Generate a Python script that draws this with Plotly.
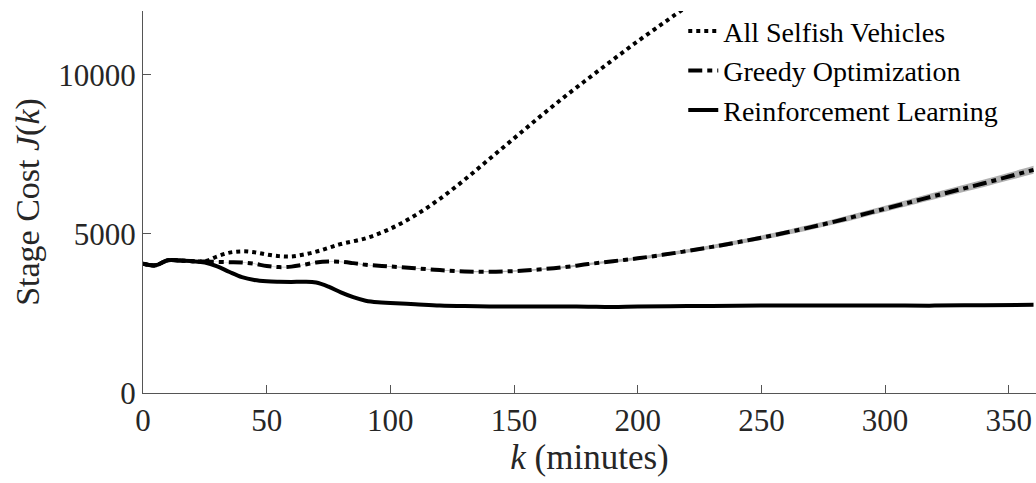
import plotly.graph_objects as go

# ---------------- data ----------------
k_selfish = [0, 5, 10, 15, 20, 25, 30, 35, 40, 45, 50, 55, 60, 65, 70, 75, 80, 90,
             100, 110, 120, 130, 140, 150, 160, 170, 180, 190, 200, 210, 220]
j_selfish = [4060, 4010, 4170, 4160, 4140, 4140, 4290, 4410, 4450, 4420, 4350, 4300,
             4290, 4350, 4440, 4560, 4680, 4860, 5160, 5580, 6100, 6700, 7350, 8000,
             8650, 9280, 9880, 10470, 11050, 11600, 12150]

k_greedy = [0, 5, 10, 15, 20, 25, 30, 35, 40, 45, 50, 55, 60, 65, 70, 75, 80, 85, 90,
            100, 110, 120, 130, 140, 150, 160, 170, 180, 190, 200, 210, 220, 230, 240,
            250, 260, 270, 280, 290, 300, 310, 320, 330, 340, 350, 360]
j_greedy = [4060, 4010, 4170, 4160, 4140, 4130, 4120, 4110, 4100, 4060, 3990, 3955,
            3970, 4030, 4100, 4130, 4120, 4080, 4030, 3975, 3920, 3860, 3820, 3810,
            3830, 3880, 3950, 4050, 4140, 4230, 4340, 4460, 4590, 4730, 4880, 5040,
            5210, 5390, 5590, 5790, 5990, 6190, 6390, 6590, 6800, 7010]
j_greedy_spread = [0, 0, 0, 0, 0, 0, 5, 5, 5, 5, 10, 10, 10, 10, 10, 10, 10, 10, 10,
                   15, 15, 15, 20, 20, 25, 25, 30, 35, 40, 45, 50, 55, 60, 65, 70, 75,
                   80, 85, 90, 95, 100, 105, 110, 115, 120, 125]

k_rl = [0, 5, 10, 15, 20, 25, 30, 35, 40, 45, 50, 55, 60, 65, 70, 75, 80, 85, 90, 95,
        100, 110, 120, 130, 140, 150, 160, 170, 180, 190, 200, 220, 240, 260, 280,
        300, 320, 340, 360]
j_rl = [4060, 4010, 4170, 4160, 4140, 4100, 3980, 3800, 3640, 3550, 3510, 3495, 3490,
        3495, 3470, 3340, 3160, 3010, 2900, 2850, 2830, 2790, 2750, 2730, 2720, 2720,
        2720, 2720, 2710, 2700, 2720, 2730, 2740, 2750, 2750, 2750, 2745, 2760, 2770]

series_names = ["All Selfish Vehicles", "Greedy Optimization", "Reinforcement Learning"]
x_ticks = [0, 50, 100, 150, 200, 250, 300, 350]
y_ticks = [0, 5000, 10000]

FONT = "'Liberation Serif', 'Times New Roman', serif"

fig = go.Figure()

# shaded spread around greedy
g_upper = [v + s for v, s in zip(j_greedy, j_greedy_spread)]
g_lower = [v - s for v, s in zip(j_greedy, j_greedy_spread)]
fig.add_trace(go.Scatter(x=k_greedy, y=g_upper, mode="lines", line=dict(width=0, shape="spline"),
                         showlegend=False, hoverinfo="skip"))
fig.add_trace(go.Scatter(x=k_greedy, y=g_lower, mode="lines", line=dict(width=0, shape="spline"),
                         fill="tonexty", fillcolor="rgba(150,150,150,0.75)",
                         showlegend=False, hoverinfo="skip"))

fig.add_trace(go.Scatter(x=k_selfish, y=j_selfish, mode="lines", name=series_names[0],
                         line=dict(color="black", width=4, dash="dot", shape="spline")))
fig.add_trace(go.Scatter(x=k_greedy, y=j_greedy, mode="lines", name=series_names[1],
                         line=dict(color="black", width=4, dash="14px,5px,5px,5px", shape="spline")))
fig.add_trace(go.Scatter(x=k_rl, y=j_rl, mode="lines", name=series_names[2],
                         line=dict(color="black", width=4, shape="spline")))

axis_common = dict(
    showgrid=False, zeroline=False, showline=True, linecolor="#555555", linewidth=1,
    ticks="inside", ticklen=8, tickcolor="#555555", mirror=False,
    tickfont=dict(family=FONT, size=31, color="#262626"),
)

fig.update_layout(
    width=1036, height=483,
    margin=dict(l=143, r=0, t=11, b=90, autoexpand=False),
    plot_bgcolor="white", paper_bgcolor="white",
    font=dict(family=FONT, color="#262626"),
    xaxis=dict(range=[0, 361], tickvals=x_ticks, ticktext=[str(v) for v in x_ticks],
               title=dict(text="<i>k</i> (minutes)", font=dict(family=FONT, size=35, color="#262626"),
                          standoff=6),
               automargin=False,
               **axis_common),
    yaxis=dict(range=[0, 12000], tickvals=y_ticks, ticktext=[str(v) for v in y_ticks],
               title=dict(text="Stage Cost <i>J</i>(<i>k</i>)", font=dict(family=FONT, size=34, color="#262626"),
                          standoff=8),
               automargin=False,
               **axis_common),
    legend=dict(
        xref="paper", yref="paper", x=0.605, y=1.012,
        xanchor="left", yanchor="top",
        font=dict(family=FONT, size=28, color="black"),
        bgcolor="rgba(0,0,0,0)", borderwidth=0,
        itemwidth=30, tracegroupgap=0, traceorder="normal",
    ),
    showlegend=True,
)

fig.write_html(
    "out.html",
    config={"displayModeBar": False},
    post_script="document.body.style.margin='0';document.body.style.overflow='hidden';",
)
